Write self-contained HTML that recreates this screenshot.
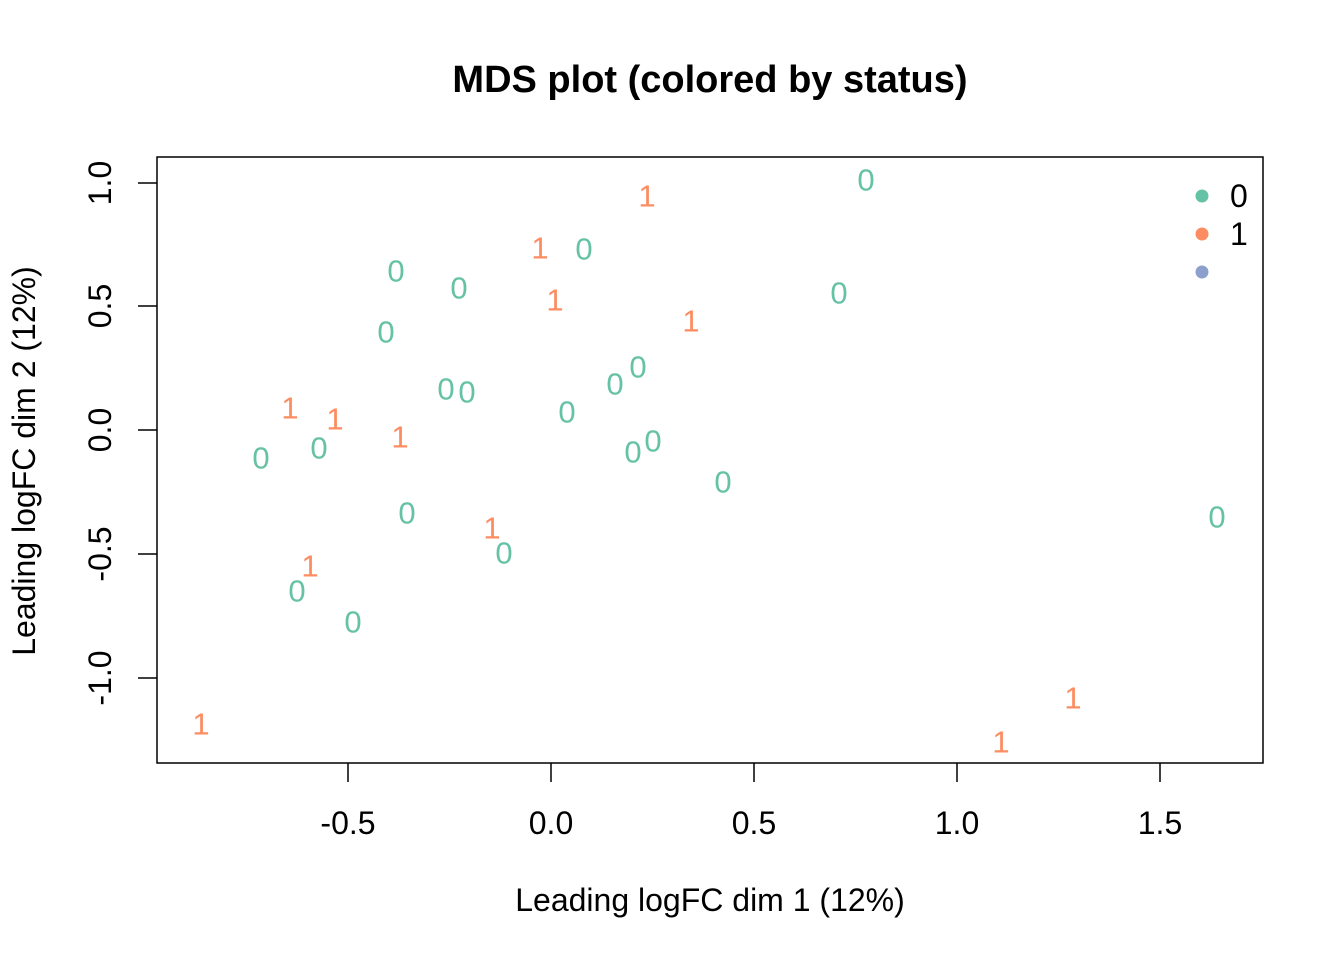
<!DOCTYPE html>
<html><head><style>body{margin:0;background:#fff}svg{display:block}</style></head>
<body>
<svg width="1344" height="960" xmlns="http://www.w3.org/2000/svg" font-family="Liberation Sans, Arial, sans-serif">
<rect width="1344" height="960" fill="#fff"/>
<text x="710" y="92" font-size="38" font-weight="bold" text-anchor="middle">MDS plot (colored by status)</text>
<rect x="157" y="157" width="1106" height="606" fill="none" stroke="#000" stroke-width="1.5"/>
<g stroke="#000" stroke-width="1.5">
<line x1="348" y1="763" x2="348" y2="782"/><line x1="551" y1="763" x2="551" y2="782"/><line x1="754" y1="763" x2="754" y2="782"/><line x1="957" y1="763" x2="957" y2="782"/><line x1="1160" y1="763" x2="1160" y2="782"/>
<line x1="157" y1="183" x2="138" y2="183"/><line x1="157" y1="306" x2="138" y2="306"/><line x1="157" y1="430" x2="138" y2="430"/><line x1="157" y1="554" x2="138" y2="554"/><line x1="157" y1="678" x2="138" y2="678"/>
</g>
<g font-size="32" text-anchor="middle">
<text x="348" y="834">-0.5</text><text x="551" y="834">0.0</text><text x="754" y="834">0.5</text><text x="957" y="834">1.0</text><text x="1160" y="834">1.5</text>
<text transform="translate(111,183) rotate(-90)">1.0</text>
<text transform="translate(111,306) rotate(-90)">0.5</text>
<text transform="translate(111,430) rotate(-90)">0.0</text>
<text transform="translate(111,554) rotate(-90)">-0.5</text>
<text transform="translate(111,678) rotate(-90)">-1.0</text>
<text x="710" y="911">Leading logFC dim 1 (12%)</text>
<text transform="translate(35,461) rotate(-90)">Leading logFC dim 2 (12%)</text>
</g>
<g font-size="31" text-anchor="middle" dominant-baseline="central" fill="#66C2A5">
<text x="866" y="180">0</text><text x="584" y="249">0</text><text x="396" y="271">0</text><text x="459" y="288">0</text><text x="386" y="332">0</text><text x="839" y="293">0</text><text x="638" y="367">0</text><text x="615" y="384">0</text><text x="446" y="389">0</text><text x="467" y="392">0</text><text x="567" y="412">0</text><text x="653" y="441">0</text><text x="633" y="452">0</text><text x="261" y="458">0</text><text x="319" y="448">0</text><text x="723" y="482">0</text><text x="407" y="513">0</text><text x="1217" y="517">0</text><text x="504" y="553">0</text><text x="297" y="591">0</text><text x="353" y="622">0</text>
</g>
<g font-size="31" text-anchor="middle" dominant-baseline="central" fill="#FC8D62">
<text x="647" y="196">1</text><text x="540" y="248">1</text><text x="555" y="300">1</text><text x="691" y="321">1</text><text x="290" y="408">1</text><text x="335" y="419">1</text><text x="400" y="437">1</text><text x="492" y="528">1</text><text x="310" y="566">1</text><text x="201" y="724">1</text><text x="1073" y="698">1</text><text x="1001" y="742">1</text>
</g>
<circle cx="1202" cy="196" r="6.5" fill="#66C2A5"/>
<circle cx="1202" cy="234" r="6.5" fill="#FC8D62"/>
<circle cx="1202" cy="272" r="6.5" fill="#8DA0CB"/>
<g font-size="32" dominant-baseline="central"><text x="1230" y="196">0</text><text x="1230" y="234">1</text></g>
</svg>
</body></html>
